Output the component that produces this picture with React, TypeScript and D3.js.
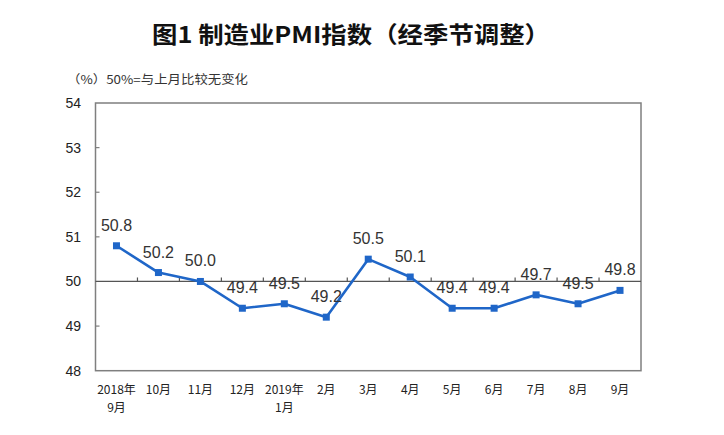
import React from "react";
import * as d3 from "d3";

const categories: string[][] = [
  ["2018年", "9月"], ["10月"], ["11月"], ["12月"], ["2019年", "1月"], ["2月"], ["3月"],
  ["4月"], ["5月"], ["6月"], ["7月"], ["8月"], ["9月"],
];
const pmiValues: number[] = [50.8, 50.2, 50.0, 49.4, 49.5, 49.2, 50.5, 50.1, 49.4, 49.4, 49.7, 49.5, 49.8];
const yTicks: number[] = [48, 49, 50, 51, 52, 53, 54];
const titleText = "图1 制造业PMI指数（经季节调整）";
const noteText = "（%）50%=与上月比较无变化";

const W = 724, H = 435;
const left = 95.5, right = 641, top = 103, bottom = 370.7;

export default function App() {
  const x = d3.scaleBand<number>().domain(d3.range(categories.length)).range([left, right]).padding(0);
  const y = d3.scaleLinear().domain([48, 54]).range([bottom, top]);
  const cx = (i: number) => (x(i) as number) + x.bandwidth() / 2;
  const line = d3.line<number>().x((_, i) => cx(i)).y((d) => y(d));
  const frame = "#7f7f7f";
  const blue = "#1f66c8";
  const y50 = y(50);
  return (
    <svg width={W} height={H} style={{ position: "absolute", left: 0, top: 0, background: "#fff" }}>
      <text x={351} y={43} textAnchor="middle" fontFamily="'Noto Sans CJK SC', sans-serif" fontWeight="bold" fontSize={23} textLength={398} lengthAdjust="spacingAndGlyphs" fill="#111">{titleText}</text>
      <text x={67} y={84} fontFamily="'Noto Sans CJK SC', sans-serif" fontSize={12} textLength={181} lengthAdjust="spacingAndGlyphs" fill="#333">{noteText}</text>
      <rect x={left} y={top} width={right - left} height={bottom - top} fill="none" stroke={frame} strokeWidth={1.5} />
      {yTicks.map((t) => (
        <g key={t}>
          {t > 48 && t < 54 && t !== 50 && <line x1={left} x2={left + 4} y1={y(t)} y2={y(t)} stroke={frame} strokeWidth={1.2} />}
          <text x={81} y={y(t) + 5} textAnchor="end" fontFamily="'Liberation Sans Narrow', 'Liberation Sans', sans-serif" fontSize={14} fill="#222">{t}</text>
        </g>
      ))}
      <line x1={left} x2={right} y1={y50} y2={y50} stroke="#555" strokeWidth={1.3} />
      {d3.range(1, categories.length).map((i) => (
        <line key={i} x1={x(i) as number} x2={x(i) as number} y1={y50} y2={y50 - 4} stroke="#555" strokeWidth={1.2} />
      ))}
      <path d={line(pmiValues) || ""} fill="none" stroke={blue} strokeWidth={2.6} strokeLinejoin="round" />
      {pmiValues.map((v, i) => (
        <rect key={i} x={cx(i) - 3.5} y={y(v) - 3.5} width={7} height={7} fill={blue} />
      ))}
      {pmiValues.map((v, i) => (
        <text key={"l" + i} x={cx(i)} y={y(v) - 15} textAnchor="middle" fontFamily="'Liberation Sans', Arial, sans-serif" fontSize={16} fill="#333">{v.toFixed(1)}</text>
      ))}
      {categories.map((c, i) => (
        <text key={"c" + i} textAnchor="middle" fontFamily="'Noto Sans CJK SC', sans-serif" fontSize={12} fill="#222">
          {c.map((s, j) => (
            <tspan key={j} x={cx(i)} y={394 + j * 18}>{s}</tspan>
          ))}
        </text>
      ))}
    </svg>
  );
}
